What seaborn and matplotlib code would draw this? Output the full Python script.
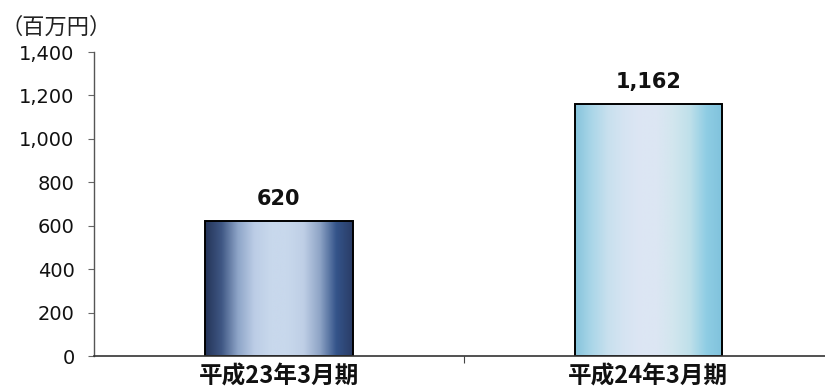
import numpy as np
import pandas as pd
import matplotlib
matplotlib.use("Agg")
import matplotlib.pyplot as plt
from matplotlib.colors import LinearSegmentedColormap
import seaborn as sns

categories = ["平成23年3月期", "平成24年3月期"]
values = [620, 1162]
value_labels = ["620", "1,162"]
yticks = [0, 200, 400, 600, 800, 1000, 1200, 1400]
ytick_labels = ["0", "200", "400", "600", "800", "1,000", "1,200", "1,400"]
unit_label = "（百万円）"

sns.set_theme(style="white")
plt.rcParams['font.family'] = ['DejaVu Sans', 'Noto Sans CJK JP']

df = pd.DataFrame({"cat": categories, "val": values})

fig = plt.figure(figsize=(8.25, 3.92), dpi=100)
ax = fig.add_axes([94/825, 1 - 356/392, 1 - 94/825 + 0.01, (356-52)/392])

sns.barplot(data=df, x="cat", y="val", ax=ax, width=0.4, color="white",
            edgecolor="black", linewidth=1.4, saturation=1)

gradients = [
    ["#243458", "#3f5784", "#8ea5c8", "#bccde6", "#c8d8ec", "#c8d8ec", "#bfcfe6", "#8ea4c6", "#34548a", "#2a3c66"],
    ["#86c4dc", "#aad6e8", "#c8e0ee", "#d6e4f2", "#dde6f4", "#dce6f3", "#d2e6ee", "#bfe0ea", "#8fcde4", "#7fc2dc"],
]
for patch, cols in zip(ax.patches, gradients):
    x0, y0 = patch.get_x(), patch.get_y()
    w, h = patch.get_width(), patch.get_height()
    cmap = LinearSegmentedColormap.from_list("g", cols)
    grad = np.linspace(0, 1, 256).reshape(1, -1)
    im = ax.imshow(grad, cmap=cmap, aspect="auto", extent=[x0, x0 + w, y0, y0 + h],
                   zorder=patch.get_zorder() - 0.1, interpolation="bilinear")
    im.set_clip_path(patch)
    patch.set_facecolor("none")

ax.set_xlim(-0.5, 1.5)
ax.set_ylim(0, 1400)
ax.set_yticks(yticks)
ax.set_yticklabels(ytick_labels, fontsize=14, color="#111111")
ax.set_xticks([0, 1])
ax.set_xticklabels(categories, family=['Noto Sans CJK JP'], fontsize=17,
                   fontweight="bold", style="italic", color="#111111")
ax.set_xticks([0.5], minor=True)
ax.tick_params(axis="x", which="major", length=0, pad=6)
ax.tick_params(axis="x", which="minor", length=5, width=0.8, color="#444444", bottom=True)
ax.tick_params(axis="y", length=4, width=0.8, color="#666666", left=True, pad=10)
ax.set_xlabel("")
ax.set_ylabel("")

for s in ["top", "right"]:
    ax.spines[s].set_visible(False)
ax.spines["left"].set_color("#555555")
ax.spines["left"].set_linewidth(1.0)
ax.spines["bottom"].set_color("#333333")
ax.spines["bottom"].set_linewidth(1.2)

for i, (v, lab) in enumerate(zip(values, value_labels)):
    ax.text(i, v + 55, lab, ha="center", va="bottom", fontsize=15,
            fontweight="bold", color="#111111")

fig.text(0.0, 1 - 27/392, unit_label, family=['Noto Sans CJK JP'], fontsize=16,
         color="#222222", va="center", ha="left")

fig.savefig("out.png", dpi=100, facecolor="white")
